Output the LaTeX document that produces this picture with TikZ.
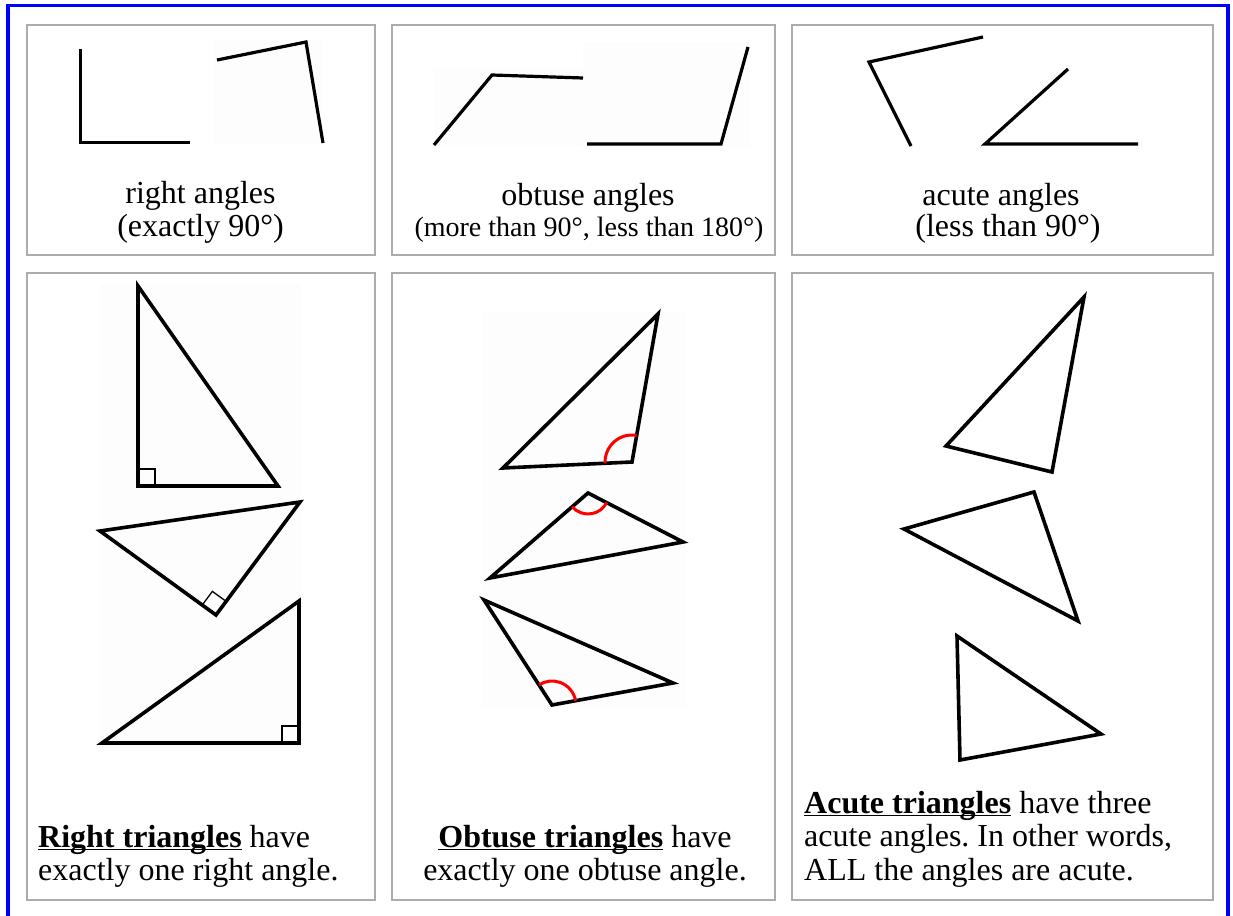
\documentclass[tikz,border=0pt]{standalone}
\usepackage{fontspec}
\setmainfont{Liberation Serif}
\usetikzlibrary{angles}
\frenchspacing
\newcommand\myul[1]{\setbox0\hbox{#1}\rlap{\rule[-3.2pt]{\wd0}{1.4pt}}\box0\relax}
\definecolor{imgbgc}{RGB}{252,253,252}
\begin{document}
\begin{tikzpicture}[x=1pt,y=-1pt,
  cellbox/.style={draw=gray!65, line width=2pt},
  stroke/.style={line width=3.2pt},
  tri/.style={line width=3.6pt, line join=miter},
  imgbg/.style={fill=imgbgc},
  rmark/.style={draw, line width=1.3pt, angle radius=17pt},
  omark/.style={draw=red, line width=3pt},
  lbl/.style={font=\fontsize{32}{34}\selectfont, inner sep=0pt},
  slbl/.style={font=\fontsize{28}{30}\selectfont, inner sep=0pt},
]
\useasboundingbox (0,0) rectangle (1233,915);
\fill[white] (0,0) rectangle (1233,915);
% outer blue frame
\draw[blue, line width=3.6pt] (8,918) -- (8,5.6) -- (1228,5.6) -- (1228,918);
% cells
\draw[cellbox] (27,25) rectangle (375,255);
\draw[cellbox] (392,25) rectangle (775,255);
\draw[cellbox] (792,25) rectangle (1213,255);
\draw[cellbox] (27,273) rectangle (375,900);
\draw[cellbox] (392,273) rectangle (775,900);
\draw[cellbox] (792,273) rectangle (1213,900);
% image backgrounds
\fill[imgbg] (213,39) rectangle (323,144);
\fill[imgbg] (434,68) rectangle (583,146);
\fill[imgbg] (583,42) rectangle (750,147);
\fill[imgbg] (100,284) rectangle (301,748);
\fill[imgbg] (482,312) rectangle (686,708);
% top row: angles
\draw[stroke] (80.5,49) -- (80.5,142.5) -- (190,142.5);
\draw[stroke] (217,60) -- (306,42) -- (323,143);
\draw[stroke] (434,145) -- (492,75) -- (583,78);
\draw[stroke] (587,144) -- (721,144) -- (748,47);
\draw[stroke] (983,37) -- (869,62) -- (911,146);
\draw[stroke] (1068,69) -- (985,144) -- (1138,144);
% top row labels
\node[lbl, anchor=base] (t1a) at (200.5,203) {right angles};
\node[lbl, anchor=base] (t1b) at (200.5,236) {(exactly 90°)};
\node[lbl, anchor=base] (t2a) at (588,205) {obtuse angles};
\node[slbl, anchor=base] (t2b) at (589,236) {(more than 90°, less than 180°)};
\node[lbl, anchor=base] (t3a) at (1001,205) {acute angles};
\node[lbl, anchor=base] (t3b) at (1008,236) {(less than 90°)};
% right triangles
\coordinate (r1a) at (138,286); \coordinate (r1b) at (138,486); \coordinate (r1c) at (278,486);
\draw[tri] (r1a) -- (r1b) -- (r1c) -- cycle;
\pic[rmark] {right angle = r1c--r1b--r1a};
\coordinate (r2a) at (100,531); \coordinate (r2b) at (216,615); \coordinate (r2c) at (300,502);
\draw[tri] (r2a) -- (r2b) -- (r2c) -- cycle;
\pic[rmark] {right angle = r2c--r2b--r2a};
\coordinate (r3a) at (299,601); \coordinate (r3b) at (299,743); \coordinate (r3c) at (102,743);
\draw[tri] (r3a) -- (r3b) -- (r3c) -- cycle;
\pic[rmark] {right angle = r3a--r3b--r3c};
% obtuse triangles
\coordinate (o1a) at (503,468); \coordinate (o1b) at (632,462); \coordinate (o1c) at (658,314);
\draw[tri] (o1a) -- (o1b) -- (o1c) -- cycle;
\pic[omark, angle radius=27pt] {angle = o1c--o1b--o1a};
\coordinate (o2a) at (490,578); \coordinate (o2b) at (588,493); \coordinate (o2c) at (683,542);
\draw[tri] (o2a) -- (o2b) -- (o2c) -- cycle;
\pic[omark, angle radius=21pt] {angle = o2a--o2b--o2c};
\coordinate (o3a) at (484,600); \coordinate (o3b) at (552,705); \coordinate (o3c) at (673,683);
\draw[tri] (o3a) -- (o3b) -- (o3c) -- cycle;
\pic[omark, angle radius=24pt] {angle = o3c--o3b--o3a};
% acute triangles
\coordinate (a1a) at (1084,297); \coordinate (a1b) at (946,446); \coordinate (a1c) at (1052,472);
\draw[tri] (a1a) -- (a1b) -- (a1c) -- cycle;
\coordinate (a2a) at (1034,492); \coordinate (a2b) at (904,529); \coordinate (a2c) at (1078,621);
\draw[tri] (a2a) -- (a2b) -- (a2c) -- cycle;
\coordinate (a3a) at (957,636); \coordinate (a3b) at (960,760); \coordinate (a3c) at (1101,734);
\draw[tri] (a3a) -- (a3b) -- (a3c) -- cycle;
% bottom labels
\node[lbl, anchor=base west] (b1a) at (38,847) {\myul{\textbf{Right triangles}} have};
\node[lbl, anchor=base west] (b1b) at (38,880) {exactly one right angle.};
\node[lbl, anchor=base] (b2a) at (585,847) {\myul{\textbf{Obtuse triangles}} have};
\node[lbl, anchor=base] (b2b) at (585,880) {exactly one obtuse angle.};
\node[lbl, anchor=base west] (b3a) at (804,813) {\myul{\textbf{Acute triangles}} have three};
\node[lbl, anchor=base west] (b3b) at (804,846) {acute angles. In other words,};
\node[lbl, anchor=base west] (b3c) at (804,880) {ALL the angles are acute.};
\end{tikzpicture}
\end{document}
